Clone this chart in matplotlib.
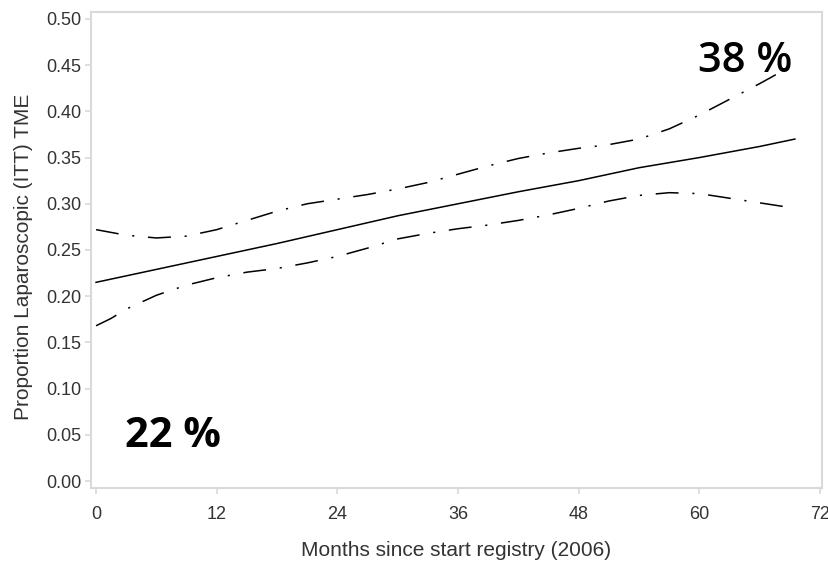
import numpy as np
import matplotlib
matplotlib.use("Agg")
import matplotlib.pyplot as plt

# fitted proportion and confidence band
months_mid = [0, 6, 12, 18, 24, 30, 36, 42, 48, 54, 60, 66, 69.5]
prop_mid = [0.215, 0.229, 0.243, 0.257, 0.272, 0.287, 0.300, 0.313, 0.325,
            0.339, 0.350, 0.362, 0.370]

months_up = [0, 3, 6, 9, 12, 15, 18, 21, 24, 27, 30, 33, 36, 39, 42, 45,
             48, 51, 54, 57, 60, 63, 66, 68.5]
prop_up = [0.272, 0.266, 0.263, 0.265, 0.272, 0.282, 0.292, 0.300, 0.305,
           0.310, 0.316, 0.323, 0.332, 0.341, 0.349, 0.355, 0.360, 0.364,
           0.370, 0.381, 0.396, 0.413, 0.430, 0.445]

months_lo = [0, 1.5, 3, 6, 9, 12, 15, 18, 21, 24, 27, 30, 33, 36, 39, 42,
             45, 48, 51, 54, 57, 60, 63, 66, 69]
prop_lo = [0.168, 0.176, 0.186, 0.201, 0.212, 0.220, 0.226, 0.230, 0.236,
           0.243, 0.252, 0.262, 0.268, 0.273, 0.277, 0.282, 0.288, 0.295,
           0.303, 0.309, 0.312, 0.311, 0.306, 0.301, 0.296]

x_ticks = [0, 12, 24, 36, 48, 60, 72]
y_ticks = np.arange(0, 0.51, 0.05)

plt.rcParams["font.family"] = ["Liberation Sans", "DejaVu Sans"]

fig = plt.figure(figsize=(8.29, 5.65), dpi=100)
ax = fig.add_axes([0.1098, 0.1363, 0.8818, 0.8425])

dashdot = (0, (15, 9, 1.4, 9))
ax.plot(months_mid, prop_mid, color="black", lw=1.1)
ax.plot(months_up, prop_up, color="black", lw=1.1, linestyle=dashdot)
ax.plot(months_lo, prop_lo, color="black", lw=1.1, linestyle=dashdot)

ax.set_xlim(-0.5, 72.2)
ax.set_ylim(-0.0075, 0.5075)
ax.set_xticks(x_ticks)
ax.set_yticks(y_ticks)
ax.set_yticklabels([f"{v:.2f}" for v in y_ticks])

for sp in ax.spines.values():
    sp.set_color("#d9d9d9")
    sp.set_linewidth(1.5)
ax.tick_params(axis="both", colors="#d9d9d9", labelcolor="#333333",
               labelsize=13, length=4, width=1.2)
ax.tick_params(axis="x", pad=9)
ax.tick_params(axis="y", pad=3)

ax.set_xlabel("Months since start registry (2006)", fontsize=15,
              color="#333333", labelpad=13)
ax.set_ylabel("Proportion Laparoscopic (ITT) TME", fontsize=15,
              color="#333333")
ax.yaxis.set_label_coords(-0.079, 0.485)

ax.text(64.6, 0.443, "38 %", fontsize=30, family="Open Sans",
        weight="semibold", ha="center", va="baseline", color="black")
ax.text(7.6, 0.0373, "22 %", fontsize=30, family="Open Sans",
        weight="bold", ha="center", va="baseline", color="black")

fig.savefig("out.png", dpi=100, facecolor="white")
